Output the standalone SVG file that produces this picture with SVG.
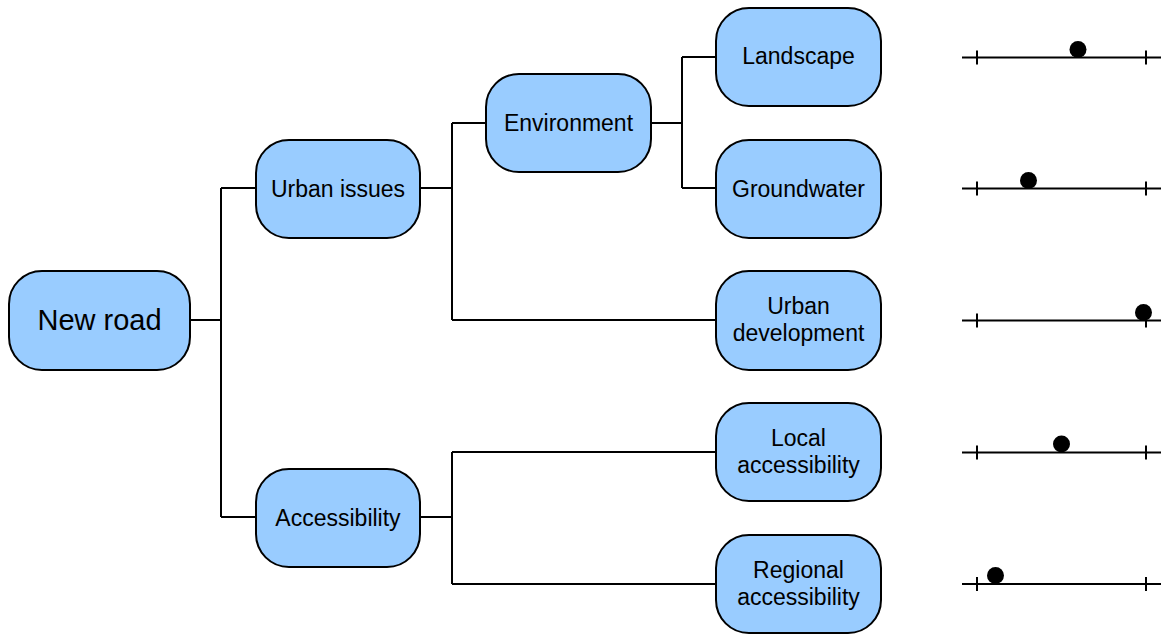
<svg xmlns="http://www.w3.org/2000/svg" width="1161" height="634" viewBox="0 0 1161 634">
<style>
.n{fill:#99ccff;stroke:#000;stroke-width:2}
.t{font-family:"Liberation Sans",Arial,sans-serif;font-size:23px;fill:#000;text-anchor:middle}
.big{font-size:29px}
.c{fill:none;stroke:#000;stroke-width:2}
.d{fill:#000}
</style>
<rect width="1161" height="634" fill="#fff"/>
<g id="connectors">
<path class="c" d="M190 320H221M221 188V517M221 188H256M221 517H256"/>
<path class="c" d="M420 188H452M452 123V320M452 123H486M452 320H716"/>
<path class="c" d="M651 123H682M682 57V188M682 57H716M682 188H716"/>
<path class="c" d="M420 517H452M452 452V584M452 452H716M452 584H716"/>
</g>
<g id="new-road"><rect class="n" x="9" y="271" width="181" height="99" rx="33"/><text class="t big" x="99.5" y="330">New road</text></g>
<g id="urban-issues"><rect class="n" x="256" y="140" width="164" height="98" rx="33"/><text class="t" x="338" y="196.5">Urban issues</text></g>
<g id="accessibility"><rect class="n" x="256" y="469" width="164" height="98" rx="33"/><text class="t" x="338" y="525.5">Accessibility</text></g>
<g id="environment"><rect class="n" x="486" y="74" width="165" height="98" rx="33"/><text class="t" x="568.5" y="131">Environment</text></g>
<g id="landscape"><rect class="n" x="716" y="8" width="165" height="98" rx="33"/><text class="t" x="798.5" y="64">Landscape</text></g>
<g id="groundwater"><rect class="n" x="716" y="140" width="165" height="98" rx="33"/><text class="t" x="798.5" y="196.5">Groundwater</text></g>
<g id="urban-development"><rect class="n" x="716" y="271" width="165" height="99" rx="33"/><text class="t" x="798.5" y="314">Urban</text><text class="t" x="798.5" y="340.5">development</text></g>
<g id="local-accessibility"><rect class="n" x="716" y="403" width="165" height="98" rx="33"/><text class="t" x="798.5" y="446">Local</text><text class="t" x="798.5" y="472.5">accessibility</text></g>
<g id="regional-accessibility"><rect class="n" x="716" y="535" width="165" height="98" rx="33"/><text class="t" x="798.5" y="578">Regional</text><text class="t" x="798.5" y="604.5">accessibility</text></g>
<g id="scales">
<path class="c" d="M962 57.5H1161M977 50.5V64.5M1146 50.5V64.5"/>
<circle class="d" cx="1078" cy="49.5" r="8.5"/>
<path class="c" d="M962 188.5H1161M977 181.5V195.5M1146 181.5V195.5"/>
<circle class="d" cx="1028.5" cy="180.5" r="8.5"/>
<path class="c" d="M962 320.5H1161M977 313.5V327.5M1146 313.5V327.5"/>
<circle class="d" cx="1143.5" cy="312.5" r="8.5"/>
<path class="c" d="M962 452.5H1161M977 445.5V459.5M1146 445.5V459.5"/>
<circle class="d" cx="1061.5" cy="444" r="8.5"/>
<path class="c" d="M962 584H1161M977 577V591M1146 577V591"/>
<circle class="d" cx="995.5" cy="575.5" r="8.5"/>
</g>
</svg>
